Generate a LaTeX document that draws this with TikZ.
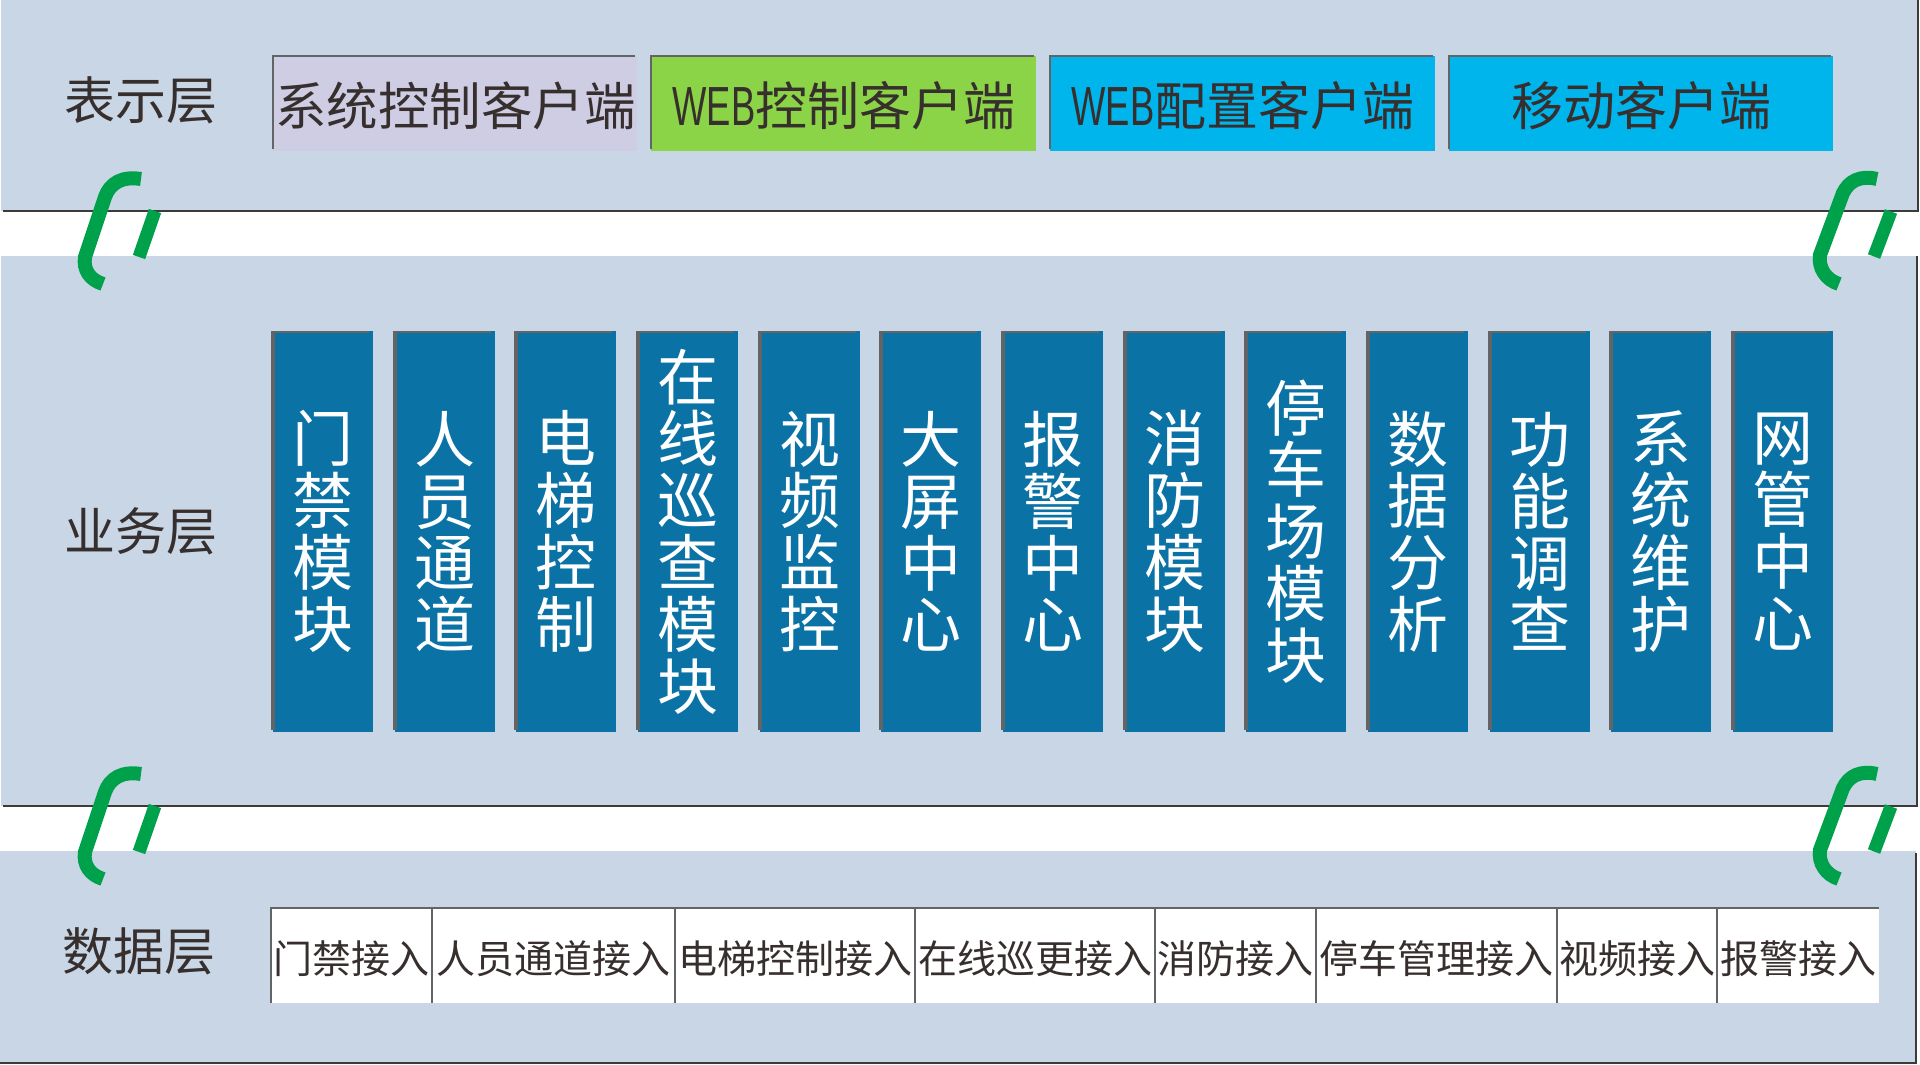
\documentclass[tikz,border=0pt]{standalone}
\usepackage{fontspec}
\usepackage{graphicx}
\setmainfont{Noto Sans CJK SC}
\newfontfamily\latinf{Liberation Sans}
\definecolor{layerc}{HTML}{C9D6E6}
\definecolor{linec}{HTML}{3E3A39}
\definecolor{edgec}{HTML}{636466}
\definecolor{txtc}{HTML}{362F2D}
\definecolor{lavc}{HTML}{CFCDE4}
\definecolor{grnc}{HTML}{8CD447}
\definecolor{cyanc}{HTML}{00B4EC}
\definecolor{bluec}{HTML}{0B72A6}
\definecolor{clipc}{HTML}{00A14B}
\newcommand{\web}{\scalebox{.7}[1.06]{\latinf WEB}}
\newcommand{\lowertxt}[2]{\raisebox{-#1}[\height][\depth]{#2}}
\tikzset{
  layerbox/.style={fill=layerc,draw=none},
  layerlabel/.style={text=txtc,inner sep=0pt,font=\fontsize{51}{51}\selectfont},
  client/.style={text=txtc,inner sep=0pt,outer sep=0pt,minimum height=95pt,font=\fontsize{52}{52}\selectfont},
  module/.style={fill=bluec,text=white,inner sep=0pt,outer sep=0pt,minimum width=100pt,minimum height=401pt,align=center,font=\fontsize{61}{61.8}\selectfont},
  source/.style={fill=white,text=txtc,inner sep=0pt,outer sep=0pt,minimum height=95pt,font=\fontsize{39}{39}\selectfont},
  edgeline/.style={draw=edgec,line width=2pt},
  darkline/.style={draw=linec,line width=2pt},
  clipline/.style={draw=clipc,line width=14pt}
}
\begin{document}
\begin{tikzpicture}[x=1pt,y=-1pt]
\useasboundingbox[fill=white] (0,0) rectangle (1920,1065);
% layers
\fill[layerbox] (1,0) rectangle (1917,211);
\fill[layerbox] (1,256) rectangle (1917,806);
\fill[layerbox] (0,851) rectangle (1916,1063);
\draw[darkline] (3,211) -- (1918,211) -- (1918,0);
\draw[darkline] (3,806) -- (1917,806) -- (1917,256);
\draw[darkline] (0,1063) -- (1916,1063) -- (1916,853);
% layer labels
\node[layerlabel] (lp) at (141,100) {表示层};
\node[layerlabel] (lb) at (141,531) {业务层};
\node[layerlabel] (ld) at (139,951) {数据层};
% clients
\node[client,fill=lavc,minimum width=364pt,font=\fontsize{51.5}{52}\selectfont] (c1) at (454.5,103.5) {\lowertxt{2pt}{\hspace{2pt}系统控制客户端}};
\node[client,fill=grnc,minimum width=385pt] (c2) at (843,103.5) {\lowertxt{2pt}{\hspace{2pt}\web 控制客户端}};
\node[client,fill=cyanc,minimum width=385pt] (c3) at (1242,103.5) {\lowertxt{2pt}{\hspace{2pt}\web 配置客户端}};
\node[client,fill=cyanc,minimum width=384pt] (c4) at (1641,103.5) {\lowertxt{2pt}{\hspace{1pt}移动客户端}};
\foreach \n in {c1,c2,c3,c4}
  \draw[edgeline] ([yshift=2pt]\n.south west) -- (\n.north west) -- ([xshift=-2pt]\n.north east);
% modules
\foreach \i/\t in {0/{门\\禁\\模\\块},1/{人\\员\\通\\道},2/{电\\梯\\控\\制},3/{在\\线\\巡\\查\\模\\块},4/{视\\频\\监\\控},5/{大\\屏\\中\\心},6/{报\\警\\中\\心},7/{消\\防\\模\\块},8/{停\\车\\场\\模\\块},9/{数\\据\\分\\析},10/{功\\能\\调\\查},11/{系\\统\\维\\护},12/{网\\管\\中\\心}}{
  \node[module] (m\i) at ({323+\i*121.67},531.5) {\t};
  \draw[edgeline,line width=4pt] ([yshift=2pt]m\i.south west) -- ([yshift=-2pt]m\i.north west);
  \draw[edgeline] ([xshift=-2pt,yshift=-1pt]m\i.north west) -- ([xshift=-4pt,yshift=-1pt]m\i.north east);
}
% data sources
\node[source,minimum width=161pt] (s1) at (351.5,955.5) {\lowertxt{3pt}{门禁接入}};
\node[source,minimum width=243pt] (s2) at (553.5,955.5) {\lowertxt{3pt}{人员通道接入}};
\node[source,minimum width=240pt] (s3) at (795,955.5) {\lowertxt{3pt}{电梯控制接入}};
\node[source,minimum width=240pt] (s4) at (1035,955.5) {\lowertxt{3pt}{在线巡更接入}};
\node[source,minimum width=161pt] (s5) at (1235.5,955.5) {\lowertxt{3pt}{消防接入}};
\node[source,minimum width=241pt] (s6) at (1436.5,955.5) {\lowertxt{3pt}{停车管理接入}};
\node[source,minimum width=160pt] (s7) at (1637,955.5) {\lowertxt{3pt}{视频接入}};
\node[source,minimum width=162pt] (s8) at (1798,955.5) {\lowertxt{3pt}{报警接入}};
\foreach \n in {s1,s2,s3,s4,s5,s6,s7,s8}
  \draw[edgeline,line width=1.5pt] (\n.south west) -- (\n.north west) -- (\n.north east);
% clips
\foreach \yy in {0,595}{
  \begin{scope}[yshift=-\yy pt]
    \draw[clipline] (141,179) .. controls (122,176) and (110,183) .. (105,197) -- (85,257) .. controls (83,270) and (90,280) .. (103,284);
    \draw[clipline,line width=13pt] (155,211) -- (139,257);
    \draw[clipline] (1877,179) .. controls (1860,175) and (1849,181) .. (1843,193) -- (1820,255) .. controls (1818,268) and (1826,280) .. (1839,284);
    \draw[clipline,line width=13pt] (1891,211.5) -- (1874,256.5);
  \end{scope}
}
\end{tikzpicture}
\end{document}
